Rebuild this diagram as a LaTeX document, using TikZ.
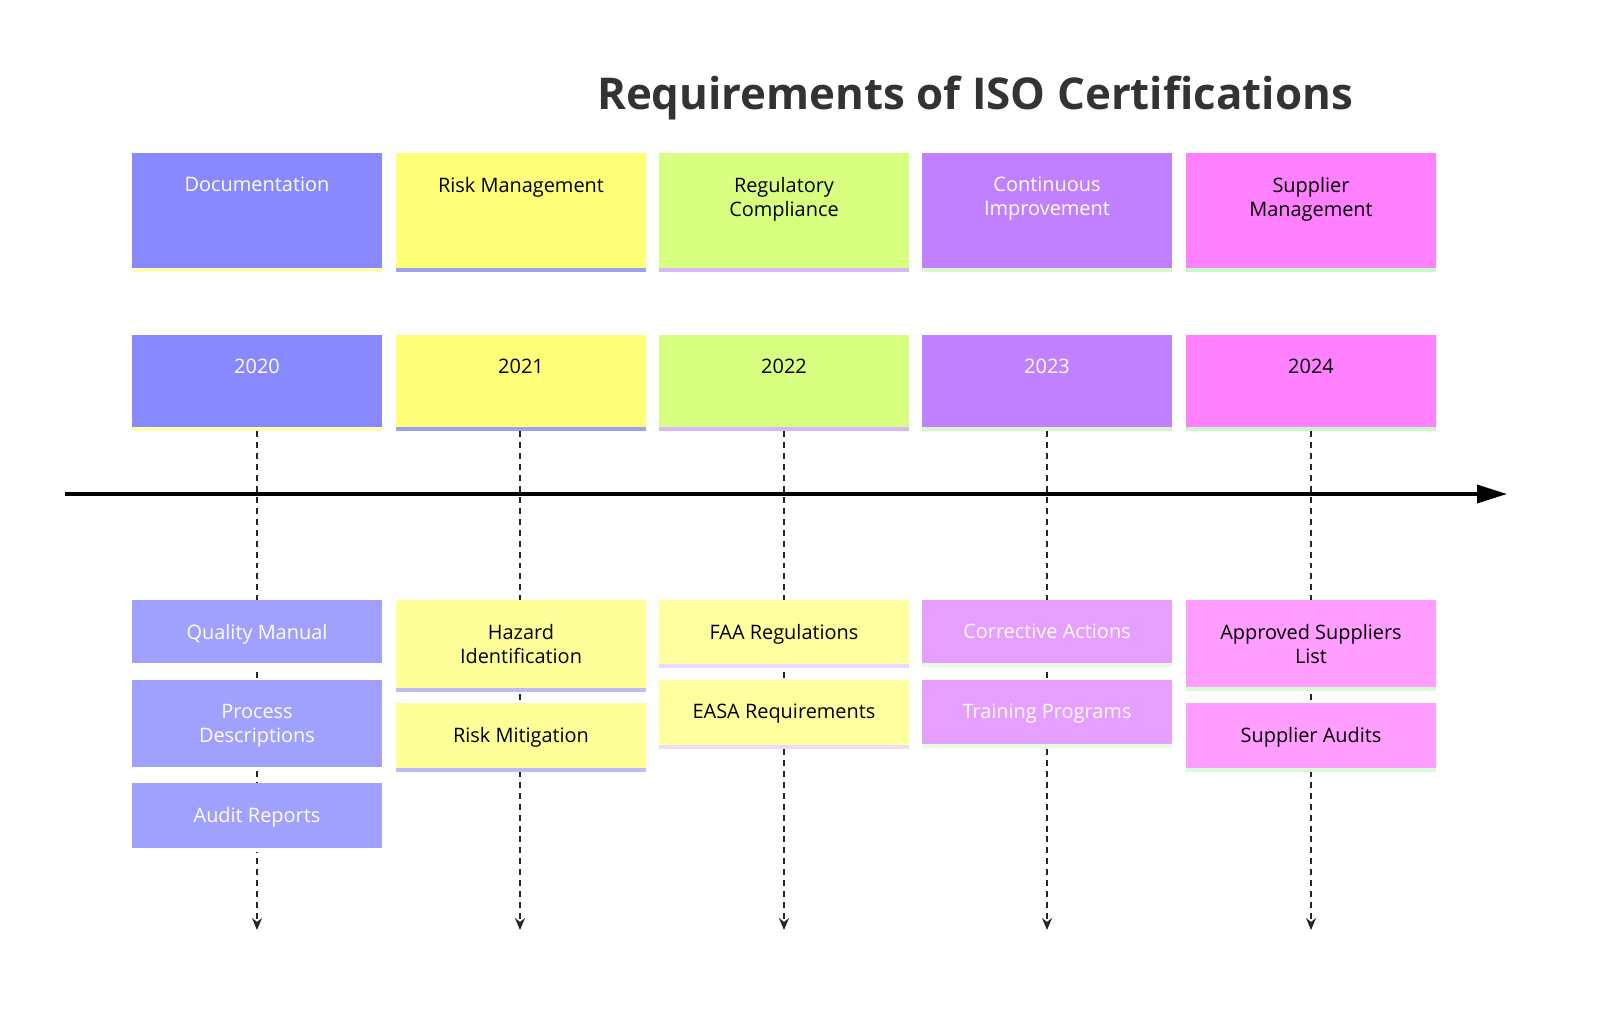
\documentclass[tikz,border=0pt]{standalone}
\usepackage{fontspec}
\setmainfont{Open Sans}
\usetikzlibrary{arrows.meta}
\definecolor{cA}{HTML}{8888FF}\definecolor{eA}{HTML}{A0A0FF}\definecolor{sA}{HTML}{FFFFB0}
\definecolor{cB}{HTML}{FFFF78}\definecolor{eB}{HTML}{FFFF99}\definecolor{sB}{HTML}{A0A0F0}
\definecolor{cC}{HTML}{D9FF80}\definecolor{eC}{HTML}{FFFFA0}\definecolor{sC}{HTML}{D8B8F8}
\definecolor{cD}{HTML}{C080FF}\definecolor{eD}{HTML}{E69EFF}\definecolor{sD}{HTML}{D8F8C8}
\definecolor{cE}{HTML}{FF80FF}\definecolor{eE}{HTML}{FF9EFF}\definecolor{sE}{HTML}{C8F8C8}
\tikzset{
  lbl/.style={anchor=north,align=center,inner sep=0pt,font=\fontsize{20}{24}\selectfont},
  guide/.style={dash pattern=on 6pt off 5pt,line width=2pt,-{Stealth[length=12pt,width=10pt]},color=black!85},
}
% box: x-left, y-top, y-bottom, fill, stripe, text colour, text, name
\newcommand{\cardbox}[8]{%
  \fill[#4] (#1,#2) rectangle ++(250,#3-#2);%
  \fill[#5] (#1,#3) rectangle ++(250,4);%
  \node[lbl,text=#6] (#8) at (#1+125,#2+24) {#7};}
\begin{document}
\begin{tikzpicture}[x=1bp,y=-1bp]
  \node[font=\bfseries\fontsize{44}{50}\selectfont,text=black!80] (title) at (975,98) {Requirements of ISO Certifications};

  % dashed guides
  \foreach \cx in {257,520,784,1047,1311}{
    \coordinate (top\cx) at (\cx,431);
    \coordinate (end\cx) at (\cx,930);
    \draw[guide] (top\cx) -- (end\cx);
  }

  % sections and years
  \cardbox{132}{153}{268}{cA}{sA}{white}{Documentation}{secA}
  \cardbox{396}{153}{268}{cB}{sB}{black}{Risk Management}{secB}
  \cardbox{659}{153}{268}{cC}{sC}{black}{Regulatory\\Compliance}{secC}
  \cardbox{922}{153}{268}{cD}{sD}{white}{Continuous\\Improvement}{secD}
  \cardbox{1186}{153}{268}{cE}{sE}{black}{Supplier\\Management}{secE}
  \cardbox{132}{335}{427}{cA}{sA}{white}{2020}{yrA}
  \cardbox{396}{335}{427}{cB}{sB}{black}{2021}{yrB}
  \cardbox{659}{335}{427}{cC}{sC}{black}{2022}{yrC}
  \cardbox{922}{335}{427}{cD}{sD}{white}{2023}{yrD}
  \cardbox{1186}{335}{427}{cE}{sE}{black}{2024}{yrE}

  % axis
  \coordinate (axL) at (65,494);
  \coordinate (axR) at (1507,494);
  \draw[line width=3.5pt,-{Triangle[length=30pt,width=18pt]}] (axL) -- (axR);

  % events
  \cardbox{132}{600}{663}{eA}{white}{white}{Quality Manual}{evA1}
  \cardbox{132}{680}{767}{eA}{white}{white}{Process\\Descriptions}{evA2}
  \cardbox{132}{783}{848}{eA}{white}{white}{Audit Reports}{evA3}
  \cardbox{396}{600}{688}{eB}{sB!70}{black}{Hazard\\Identification}{evB1}
  \cardbox{396}{703}{768}{eB}{sB!70}{black}{Risk Mitigation}{evB2}
  \cardbox{659}{600}{664}{eC}{sC!50}{black}{FAA Regulations}{evC1}
  \cardbox{659}{680}{745}{eC}{sC!50}{black}{EASA Requirements}{evC2}
  \cardbox{922}{600}{663}{eD}{sD!60}{white}{Corrective Actions}{evD1}
  \cardbox{922}{680}{744}{eD}{sD!60}{white}{Training Programs}{evD2}
  \cardbox{1186}{600}{687}{eE}{sE!70}{black}{Approved Suppliers\\List}{evE1}
  \cardbox{1186}{703}{768}{eE}{sE!70}{black}{Supplier Audits}{evE2}

  \pgfresetboundingbox
  \path[use as bounding box] (0,0) rectangle (1600,1014);
\end{tikzpicture}
\end{document}
